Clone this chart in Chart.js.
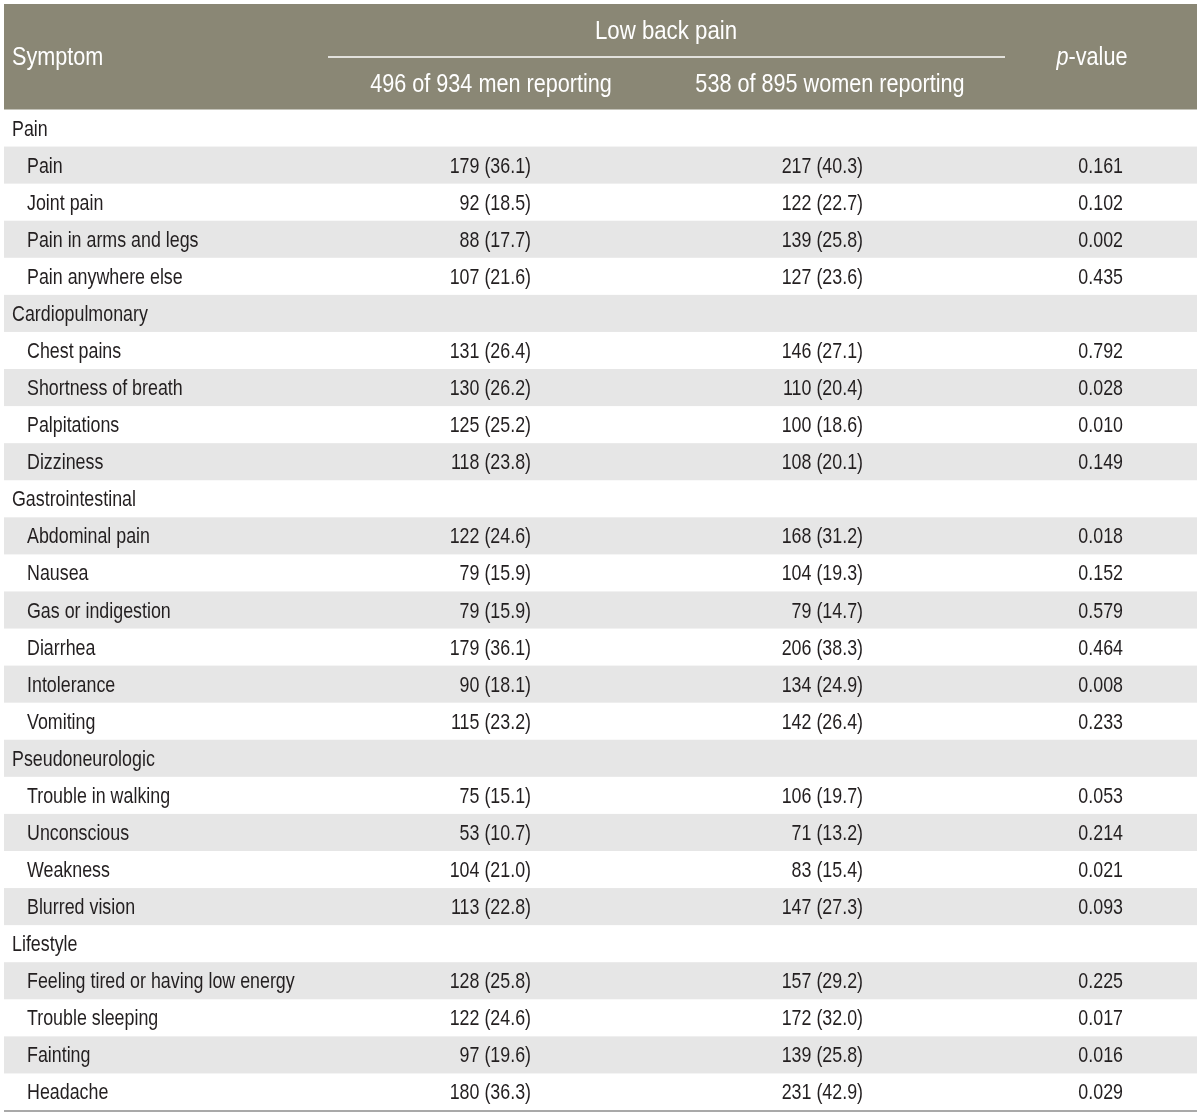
<!DOCTYPE html>
<html><head><meta charset="utf-8">
<script src="https://cdn.jsdelivr.net/npm/chart.js@4.4.1/dist/chart.umd.min.js"></script>
<style>html,body{margin:0;padding:0;background:#fff}#wrap{width:1200px;height:1120px;position:relative}</style>
</head><body><div id="wrap"><canvas id="c"></canvas></div>
<script>
// ---- data ----
const rowLabels = [
  'Pain','Pain','Joint pain','Pain in arms and legs','Pain anywhere else',
  'Cardiopulmonary','Chest pains','Shortness of breath','Palpitations','Dizziness',
  'Gastrointestinal','Abdominal pain','Nausea','Gas or indigestion','Diarrhea','Intolerance','Vomiting',
  'Pseudoneurologic','Trouble in walking','Unconscious','Weakness','Blurred vision',
  'Lifestyle','Feeling tired or having low energy','Trouble sleeping','Fainting','Headache'
];
const menCounts   = [null,179,92,88,107, null,131,130,125,118, null,122,79,79,179,90,115, null,75,53,104,113, null,128,122,97,180];
const menPct      = [null,36.1,18.5,17.7,21.6, null,26.4,26.2,25.2,23.8, null,24.6,15.9,15.9,36.1,18.1,23.2, null,15.1,10.7,21.0,22.8, null,25.8,24.6,19.6,36.3];
const womenCounts = [null,217,122,139,127, null,146,110,100,108, null,168,104,79,206,134,142, null,106,71,83,147, null,157,172,139,231];
const womenPct    = [null,40.3,22.7,25.8,23.6, null,27.1,20.4,18.6,20.1, null,31.2,19.3,14.7,38.3,24.9,26.4, null,19.7,13.2,15.4,27.3, null,29.2,32.0,25.8,42.9];
const pValues     = [null,0.161,0.102,0.002,0.435, null,0.792,0.028,0.010,0.149, null,0.018,0.152,0.579,0.464,0.008,0.233, null,0.053,0.214,0.021,0.093, null,0.225,0.017,0.016,0.029];
const headerTitle = 'Low back pain';
const headerFirst = 'Symptom';
const headerMen = '496 of 934 men reporting';
const headerWomen = '538 of 895 women reporting';

const FONT = "'Liberation Sans','Arimo',Arial,sans-serif";

function drawText(ctx, text, x, y, align, sx, font) {
  ctx.save();
  ctx.font = font;
  ctx.textAlign = align;
  ctx.textBaseline = 'alphabetic';
  ctx.translate(x, y);
  ctx.scale(sx, 1);
  ctx.fillText(text, 0, 0);
  ctx.restore();
}

const tablePlugin = {
  id: 'tableDraw',
  beforeDatasetsDraw(chart) {
    const ctx = chart.ctx, y = chart.scales.y, a = chart.chartArea;
    const n = rowLabels.length;
    const band = (a.bottom - a.top) / n;
    ctx.save();
    ctx.fillStyle = '#8a8775';
    ctx.fillRect(4, 4, 1193, a.top - 4);
    ctx.fillStyle = '#e6e6e6';
    rowLabels.forEach((_, i) => {
      if (i % 2 === 1) {
        const cy = y.getPixelForValue(i);
        ctx.fillRect(4, cy - band / 2, 1193, band);
      }
    });
    ctx.restore();
  },
  afterDraw(chart) {
    const ctx = chart.ctx, y = chart.scales.y, a = chart.chartArea;
    ctx.save();
    // header text
    ctx.fillStyle = '#ffffff';
    const hf = '25px ' + FONT;
    const hsx = 0.865;
    drawText(ctx, headerFirst, 12, 65.3, 'left', hsx, hf);
    drawText(ctx, headerTitle, 666, 39.3, 'center', 0.89, hf);
    drawText(ctx, headerMen, 491, 92.3, 'center', hsx, hf);
    drawText(ctx, headerWomen, 830, 92.3, 'center', hsx, hf);
    // p-value
    const pf = 'italic 25px ' + FONT;
    ctx.font = pf;
    const wp = ctx.measureText('p').width * hsx;
    ctx.font = hf;
    const wr = ctx.measureText('-value').width * hsx;
    const px = 1092 - (wp + wr) / 2;
    drawText(ctx, 'p', px, 65.3, 'left', hsx, pf);
    drawText(ctx, '-value', px + wp, 65.3, 'left', hsx, hf);
    // header rule
    ctx.strokeStyle = '#ffffff';
    ctx.lineWidth = 1.5;
    ctx.beginPath();
    ctx.moveTo(328, 57); ctx.lineTo(1005, 57);
    ctx.stroke();

    // body
    ctx.fillStyle = '#231f20';
    const bf = '22.3px ' + FONT;
    const bsx = 0.80;
    rowLabels.forEach((lab, i) => {
      const by = y.getPixelForValue(i) + 7.5;
      const isSection = menCounts[i] === null;
      drawText(ctx, lab, isSection ? 12 : 27, by, 'left', bsx, bf);
      if (!isSection) {
        drawText(ctx, menCounts[i] + ' (' + menPct[i].toFixed(1) + ')', 531, by, 'right', bsx, bf);
        drawText(ctx, womenCounts[i] + ' (' + womenPct[i].toFixed(1) + ')', 863, by, 'right', bsx, bf);
        drawText(ctx, pValues[i].toFixed(3), 1123, by, 'right', bsx, bf);
      }
    });
    // bottom rule
    ctx.strokeStyle = '#8c8c8c';
    ctx.lineWidth = 1.5;
    ctx.beginPath();
    ctx.moveTo(4, a.bottom + 0.5); ctx.lineTo(1197, a.bottom + 0.5);
    ctx.stroke();
    ctx.restore();
  }
};

new Chart(document.getElementById('c'), {
  type: 'bar',
  data: {
    labels: rowLabels,
    datasets: [
      { label: 'Men', data: menCounts, backgroundColor: 'rgba(0,0,0,0)' },
      { label: 'Women', data: womenCounts, backgroundColor: 'rgba(0,0,0,0)' }
    ]
  },
  options: {
    indexAxis: 'y',
    responsive: true,
    maintainAspectRatio: false,
    animation: false,
    devicePixelRatio: 1,
    layout: { padding: { top: 109.5, bottom: 9.5, left: 4, right: 3 } },
    plugins: { legend: { display: false }, tooltip: { enabled: false } },
    scales: {
      y: { type: 'category', display: false, offset: true, grid: { display: false } },
      x: { display: false, min: 0, max: 250 }
    }
  },
  plugins: [tablePlugin]
});
</script>
</body></html>
